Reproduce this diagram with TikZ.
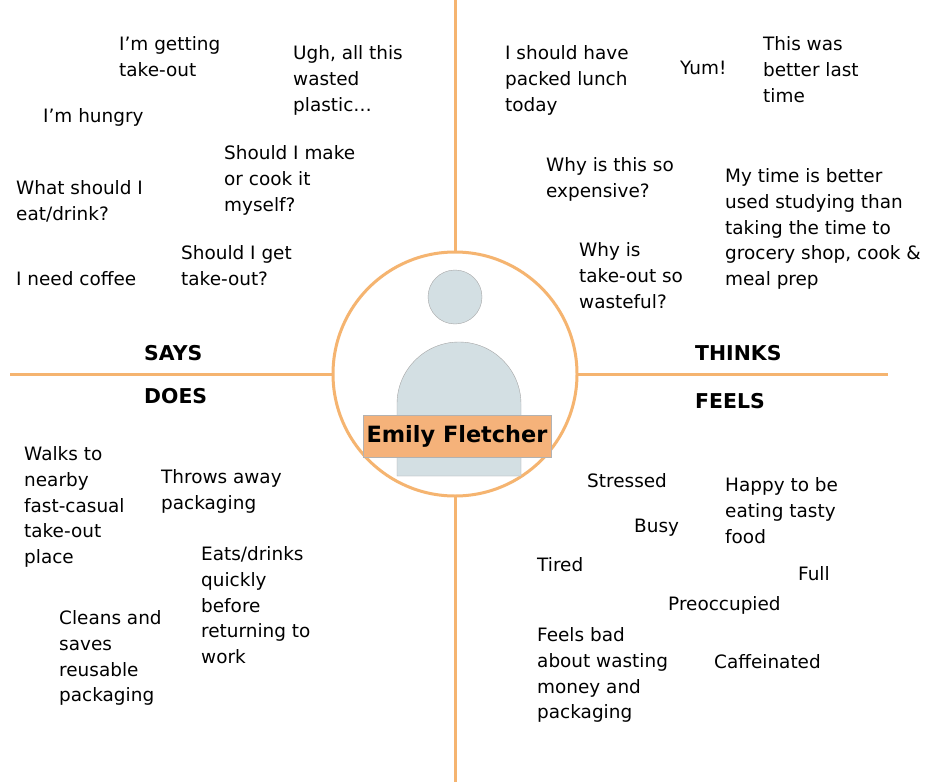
\documentclass[tikz,border=0pt]{standalone}
\usepackage{fontspec}
\setmainfont{DejaVu Sans}
\definecolor{org}{HTML}{F5B470}
\definecolor{fig}{HTML}{D3DFE3}
\definecolor{namebg}{HTML}{F5B27A}
\begin{document}
\begin{tikzpicture}[x=1bp,y=-1bp,
  t/.style={anchor=north west,inner sep=0pt,align=left,font=\fontsize{18.5}{26}\selectfont},
  hd/.style={anchor=north west,inner sep=0pt,font=\fontsize{20.5}{22}\selectfont\bfseries}]
\useasboundingbox[fill=white] (0,0) rectangle (948,782);
\draw[org,line width=3bp] (455,0) -- (455,782);
\draw[org,line width=3bp] (10,374) -- (888,374);
\node[circle,draw=org,line width=3bp,fill=white,minimum size=244bp,inner sep=0pt] (c) at (455,374) {};
\node[circle,draw=gray!70,fill=fig,minimum size=54bp,inner sep=0pt] (head) at (455,297) {};
\draw[gray!70,fill=fig] (397,476) -- (397,404) arc[start angle=180,end angle=360,radius=62] -- (521,476) -- cycle;
\node[draw=gray!60,fill=namebg,minimum width=188bp,minimum height=42bp,inner sep=0pt,font=\fontsize{22.5}{24}\selectfont\bfseries] (name) at (457,436) {Emily Fletcher};
\node[hd] (says) at (144,345) {SAYS};
\node[hd] (thinks) at (695,345) {THINKS};
\node[hd] (does) at (144,388) {DOES};
\node[hd] (feels) at (695,393) {FEELS};
% says
\node[t] (s1) at (119,36) {I’m getting\\take-out};
\node[t] (s2) at (293,45) {Ugh, all this\\wasted\\plastic…};
\node[t] (s3) at (43,108) {I’m hungry};
\node[t] (s4) at (224,145) {Should I make\\or cook it\\myself?};
\node[t] (s5) at (16,180) {What should I\\eat/drink?};
\node[t] (s6) at (181,245) {Should I get\\take-out?};
\node[t] (s7) at (16,271) {I need coffee};
% thinks
\node[t] (k1) at (505,45) {I should have\\packed lunch\\today};
\node[t] (k2) at (680,61) {Yum!};
\node[t] (k3) at (763,36) {This was\\better last\\time};
\node[t] (k4) at (546,157) {Why is this so\\expensive?};
\node[t] (k5) at (725,168) {My time is better\\used studying than\\taking the time to\\grocery shop, cook \&\\meal prep};
\node[t] (k6) at (579,242) {Why is\\take-out so\\wasteful?};
% does
\node[t] (d1) at (24,446) {Walks to\\nearby\\fast-casual\\take-out\\place};
\node[t] (d2) at (161,469) {Throws away\\packaging};
\node[t] (d3) at (201,546) {Eats/drinks\\quickly\\before\\returning to\\work};
\node[t] (d4) at (59,610) {Cleans and\\saves\\reusable\\packaging};
% feels
\node[t] (f1) at (587,473) {Stressed};
\node[t] (f2) at (725,477) {Happy to be\\eating tasty\\food};
\node[t] (f3) at (634,519) {Busy};
\node[t] (f4) at (537,557) {Tired};
\node[t] (f5) at (798,566) {Full};
\node[t] (f6) at (668,596) {Preoccupied};
\node[t] (f7) at (537,627) {Feels bad\\about wasting\\money and\\packaging};
\node[t] (f8) at (714,654) {Caffeinated};
\end{tikzpicture}
\end{document}
